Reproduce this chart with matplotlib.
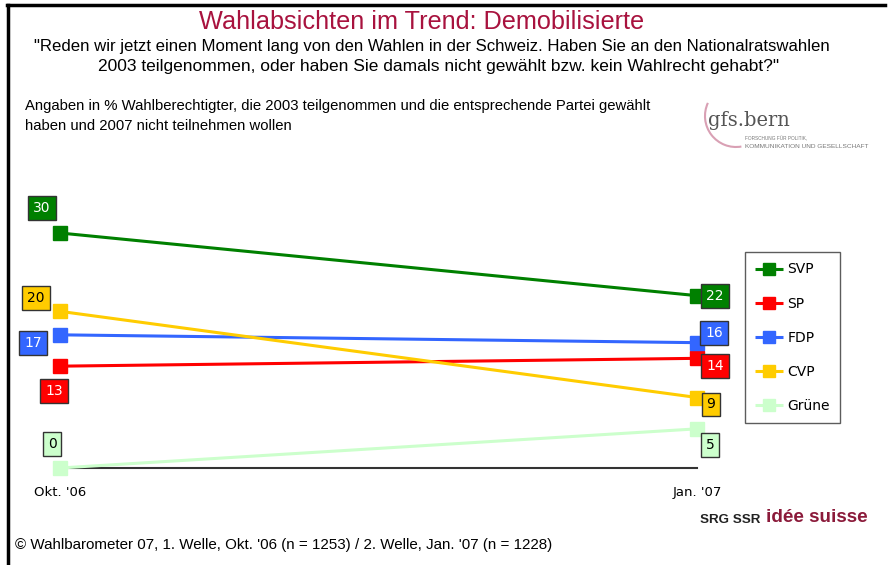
import matplotlib.pyplot as plt
from matplotlib.patches import Arc

# Daten
zeitpunkte = ["Okt. '06", "Jan. '07"]
parteien = ["SVP", "SP", "FDP", "CVP", "Grüne"]
svp = [30, 22]
sp = [13, 14]
fdp = [17, 16]
cvp = [20, 9]
gruene = [0, 5]
werte = [svp, sp, fdp, cvp, gruene]

farben = ["#008000", "#ff0000", "#3366ff", "#ffcc00", "#ccffcc"]
textfarben = ["white", "white", "white", "black", "black"]
# Lage der Wertekaestchen relativ zum Punkt (Pixel)
off_okt = [(-18, 25), (-6, -25), (-27, -8), (-24, 13), (-8, 24)]
off_jan = [(18, 0), (18, -8), (17, 10), (14, -7), (13, -16)]

W, H = 888, 565
schrift = "Liberation Sans"

fig = plt.figure(figsize=(W / 100, H / 100), dpi=100)
renderer = fig.canvas.get_renderer()

# Hintergrund-Achse in Pixelkoordinaten fuer Texte und Rahmen
deko = fig.add_axes([0, 0, 1, 1])
deko.set_xlim(0, W)
deko.set_ylim(H, 0)
deko.axis("off")


def text_breite(x, y, s, breite, **kw):
    # Text so skalieren, dass er etwa die Breite wie im Original hat
    t = deko.text(x, y, s, fontsize=10, **kw)
    b = t.get_window_extent(renderer).width
    t.set_fontsize(10 * breite / b)
    return t


deko.plot([7, 885], [5, 5], color="black", lw=2.5)
deko.plot([8, 8], [5, H], color="black", lw=2.5)

text_breite(422, 22, "Wahlabsichten im Trend: Demobilisierte", 445, ha="center", va="center",
            color="#a8123e", family=schrift)
text_breite(432, 46, "\"Reden wir jetzt einen Moment lang von den Wahlen in der Schweiz. Haben Sie an den Nationalratswahlen",
            797, ha="center", va="center", family=schrift)
text_breite(439, 67, "2003 teilgenommen, oder haben Sie damals nicht gewählt bzw. kein Wahlrecht gehabt?\"",
            680, ha="center", va="center", family=schrift)
t1 = text_breite(25, 106, "Angaben in % Wahlberechtigter, die 2003 teilgenommen und die entsprechende Partei gewählt",
                 627, ha="left", va="center", family=schrift)
deko.text(25, 126, "haben und 2007 nicht teilnehmen wollen", ha="left", va="center",
          fontsize=t1.get_fontsize(), family=schrift)

# Logo gfs.bern
deko.add_patch(Arc((736, 116), 62, 62, theta1=80, theta2=205, color="#d9a0b4", lw=1.5))
text_breite(708, 121, "gfs.bern", 82, ha="left", va="center", color="#555555", family="DejaVu Serif")
text_breite(745, 139, "FORSCHUNG FÜR POLITIK,", 62, ha="left", va="center", color="#777777", family=schrift)
text_breite(745, 147, "KOMMUNIKATION UND GESELLSCHAFT", 124, ha="left", va="center", color="#777777",
            family=schrift)

# SRG Logo
text_breite(700, 520, "SRG SSR", 60, ha="left", va="center", fontweight="bold", color="#222222",
            family=schrift)
text_breite(766, 518, "idée suisse", 102, ha="left", va="center", fontweight="bold", color="#8b1a3a",
            family=schrift)

text_breite(15, 545, "© Wahlbarometer 07, 1. Welle, Okt. '06 (n = 1253) / 2. Welle, Jan. '07 (n = 1228)",
            540, ha="left", va="center", family=schrift)

# Datenachse
ax = fig.add_axes([0, 0, 1, 1])
ax.patch.set_alpha(0)
ax.set_xlim(-60 / 637, 828 / 637)
ax.set_ylim((468 - H) / (235 / 30), 468 / (235 / 30))

x = list(range(len(zeitpunkte)))
for i, name in enumerate(parteien):
    ax.plot(x, werte[i], color=farben[i], lw=2.2, marker="s", markersize=10,
            label=name, solid_capstyle="butt")
    for j, offs in enumerate([off_okt[i], off_jan[i]]):
        ax.annotate(str(werte[i][j]), (x[j], werte[i][j]), xytext=offs,
                    textcoords="offset pixels", ha="center", va="center",
                    fontsize=10, color=textfarben[i],
                    bbox=dict(boxstyle="square,pad=0.35", fc=farben[i], ec="#333333", lw=1))

for s in ["top", "left", "right"]:
    ax.spines[s].set_visible(False)
ax.spines["bottom"].set_position(("data", 0))
ax.spines["bottom"].set_bounds(0, 1)
ax.spines["bottom"].set_color("#333333")
ax.spines["bottom"].set_linewidth(1.5)
ax.spines["bottom"].set_zorder(1)
ax.set_yticks([])
ax.set_xticks(x)
ax.set_xticklabels(zeitpunkte, fontsize=9.5)
ax.tick_params(axis="x", length=0, pad=13)

leg = ax.legend(loc="upper left", bbox_to_anchor=(745 / W, 1 - 252 / H),
                bbox_transform=fig.transFigure, frameon=True, fancybox=False,
                edgecolor="#333333", fontsize=10, handlelength=2.0, markerscale=0.8,
                labelspacing=1.45, borderpad=0.75, handletextpad=0.3, borderaxespad=0)
leg.get_frame().set_linewidth(1)

fig.savefig("out.png", dpi=100)
